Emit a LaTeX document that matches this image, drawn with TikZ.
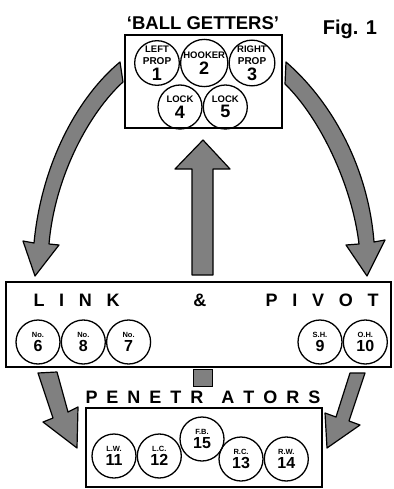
\documentclass[tikz,border=0pt]{standalone}
\usepackage{fontspec}
\setmainfont{Liberation Sans}
\usetikzlibrary{positioning}

% sizes of the texts inside the circles
\newcommand{\namesize}{\fontsize{9.5}{9.5}\selectfont}
\newcommand{\numsize}{\fontsize{18}{16}\selectfont}
\newcommand{\smallname}{\fontsize{7.5}{7}\selectfont}
\newcommand{\smallnum}{\fontsize{16}{14}\selectfont}

\begin{document}
\begin{tikzpicture}[
  x=1pt, y=-1pt,
  node distance=0pt and 0pt,
  player/.style={draw, circle, line width=1.3pt, minimum size=44pt, inner sep=0pt, align=center, font=\bfseries},
  box/.style={draw, line width=1.2pt, inner sep=0pt},
  fatarrow/.style={draw, line width=1.2pt, fill=black!50, line join=round},
  heading/.style={font=\bfseries\fontsize{18}{18}\selectfont}
]
\useasboundingbox (0,0) rectangle (393,489);

% big shaded arrows
\draw[fatarrow] (120,62) .. controls (80,95) and (42,160) .. (34,243) -- (23,241) -- (35,276) -- (59,245) -- (49,244) .. controls (55,175) and (90,112) .. (123,82) -- cycle;
\draw[fatarrow] (286,62) .. controls (330,100) and (368,165) .. (374,242) -- (385,240) -- (367,276) -- (346,245) -- (359,244) .. controls (352,185) and (320,118) .. (285,84) -- cycle;
\draw[fatarrow] (192,275) -- (192,169) -- (175,169) -- (203,140) -- (230,169) -- (213,169) -- (213,275) -- cycle;
\draw[fatarrow] (38,373) -- (57,372) -- (68,412) -- (78,407) -- (77,448) -- (43,422) -- (53,418) -- cycle;
\draw[fatarrow] (350,373) -- (365,373) -- (349,421) -- (360,425) -- (327,448) -- (325,413) -- (336,417) -- cycle;

% ball getters
\node[box, minimum width=157pt, minimum height=93pt] (getters) at (203.5,81.5) {};
\node[font=\bfseries\fontsize{18.5}{18}\selectfont] (gettitle) at (203,23) {`BALL GETTERS'};
\node[font=\bfseries\fontsize{20}{20}\selectfont] (fig) at (350,29) {Fig. 1};
\node[player] (p1) at (157,63) {\namesize LEFT\\PROP\\[2.5pt]\numsize 1};
\node[player, right=of p1] (p2) {\namesize HOOKER\\[2pt]\numsize 2};
\node[player, right=of p2] (p3) {\namesize RIGHT\\PROP\\[2.5pt]\numsize 3};
\node[player] (p4) at (180,107) {\namesize LOCK\\[2pt]\numsize 4};
\node[player, right=of p4] (p5) {\namesize LOCK\\[2pt]\numsize 5};

% link & pivot
\node[box, minimum width=385pt, minimum height=85pt] (link) at (198.5,324.5) {};
\node[heading] (linktitle) at (206,300) {\makebox[345pt][s]{L I N K\ \ \ \ \ \& \ \ \ P I V O T}};
\node[player] (p6) at (38,342) {\smallname No.\\[2.5pt]\smallnum 6};
\node[player, right=of p6] (p8) {\smallname No.\\[2.5pt]\smallnum 8};
\node[player, right=of p8] (p7) {\smallname No.\\[2.5pt]\smallnum 7};
\node[player] (p9) at (320,342) {\smallname S.H.\\[2.5pt]\smallnum 9};
\node[player, right=of p9] (p10) {\smallname O.H.\\[2.5pt]\smallnum 10};
\node[draw, fill=black!50, line width=1.2pt, minimum width=19pt, minimum height=17pt] (marker) at (203,378) {};

% penetrators
\node[box, minimum width=236pt, minimum height=79pt] (pen) at (204,447.5) {};
\node[heading] (pentitle) at (203,397) {\makebox[235pt][s]{P E N E T R\ \ A T O R S}};
\node[player] (p11) at (114,456) {\smallname L.W.\\[2.5pt]\smallnum 11};
\node[player, right=of p11] (p12) {\smallname L.C.\\[2.5pt]\smallnum 12};
\node[player] (p15) at (202,439) {\smallname F.B.\\[2.5pt]\smallnum 15};
\node[player] (p13) at (241,459) {\smallname R.C.\\[2.5pt]\smallnum 13};
\node[player, right=of p13] (p14) {\smallname R.W.\\[2.5pt]\smallnum 14};
\end{tikzpicture}
\end{document}
